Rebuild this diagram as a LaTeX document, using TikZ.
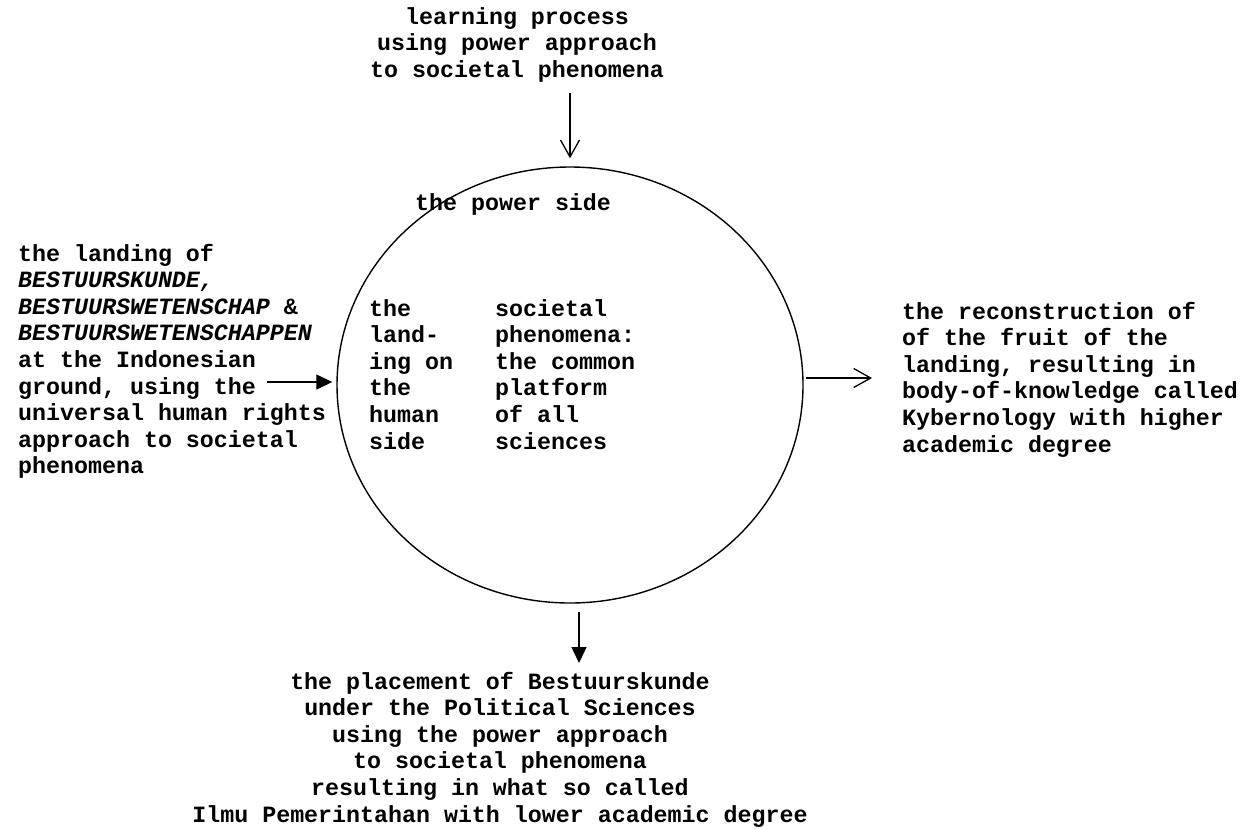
\documentclass[tikz,border=0pt]{standalone}
\usepackage{fontspec}
\setmainfont{Liberation Mono}
\usetikzlibrary{arrows.meta,shapes.geometric}
\begin{document}
\begin{tikzpicture}[x=1pt,y=-1pt,
  txt/.style={inner sep=0pt, font=\fontsize{23.3pt}{26.6pt}\selectfont\bfseries},
  conn/.style={line width=1.3pt},
  barb/.style={conn,-{Straight Barb[length=17pt,width=19pt,line width=1.3pt]}},
  solidtip/.style={conn,-{Triangle[length=16pt,width=15pt]}}]
\useasboundingbox (0,0) rectangle (1246,828);

% central field
\node (circ) [draw, line width=1.4pt, ellipse, inner sep=0pt,
      minimum width=466pt, minimum height=436pt] at (570,385) {};

% texts
\node (top) [txt, anchor=base] at (517,24)
  {\begin{tabular}[t]{@{}c@{}}learning process\\using power approach\\to societal phenomena\end{tabular}};
\node (left) [txt, anchor=base west] at (18,261)
  {\begin{tabular}[t]{@{}l@{}}the landing of\\\textit{BESTUURSKUNDE,}\\\textit{BESTUURSWETENSCHAP} \&\\\textit{BESTUURSWETENSCHAPPEN}\\at the Indonesian\\ground, using the\\universal human rights\\approach to societal\\phenomena\end{tabular}};
\node (power) [txt, anchor=base west] at (415,210) {the power side};
\node (human) [txt, anchor=base west] at (369,316)
  {\begin{tabular}[t]{@{}l@{}}the\\land-\\ing on\\the\\human\\side\end{tabular}};
\node (common) [txt, anchor=base west] at (495,316)
  {\begin{tabular}[t]{@{}l@{}}societal\\phenomena:\\the common\\platform\\of all\\sciences\end{tabular}};
\node (right) [txt, anchor=base west] at (902,319)
  {\begin{tabular}[t]{@{}l@{}}the reconstruction of\\of the fruit of the\\landing, resulting in\\body-of-knowledge called\\Kybernology with higher\\academic degree\end{tabular}};
\node (bottom) [txt, anchor=base] at (500,689)
  {\begin{tabular}[t]{@{}c@{}}the placement of Bestuurskunde\\under the Political Sciences\\using the power approach\\to societal phenomena\\resulting in what so called\\Ilmu Pemerintahan with lower academic degree\end{tabular}};

% connector end points
\coordinate (topfrom) at (570,93);
\coordinate (leftfrom) at (267,382);
\coordinate (rightto) at (872,378);
\coordinate (bottomto) at (579,663);

% connectors
\draw[barb, shorten >=8pt] (topfrom) -- (topfrom |- circ.north);
\draw[solidtip, shorten >=4pt] (leftfrom) -- (leftfrom -| circ.west);
\draw[barb, shorten <=2pt] (rightto -| circ.east) -- (rightto);
\draw[solidtip, shorten <=8pt] (bottomto |- circ.south) -- (bottomto);
\end{tikzpicture}
\end{document}
